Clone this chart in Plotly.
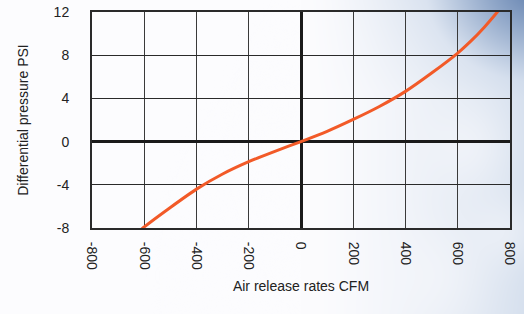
import base64, struct, zlib
import numpy as np
import plotly.graph_objects as go

# ---- data ----
cfm = [-610, -600, -500, -400, -300, -200, -100, 0, 100, 200, 300, 400, 500, 600, 650, 700, 750, 760]
psi = [-8.1, -7.9, -6.1, -4.4, -3.0, -1.86, -0.9, 0.0, 0.95, 2.05, 3.25, 4.65, 6.35, 8.2, 9.3, 10.55, 11.95, 12.25]
x_ticks = [-800, -600, -400, -200, 0, 200, 400, 600, 800]
y_ticks = [-8, -4, 0, 4, 8, 12]

# ---- background gradient image (decorative sky) ----
W, H = 524, 314
yy, xx = np.mgrid[0:H, 0:W].astype(float)
tx = np.clip((xx - 300) / 224.0, 0, 1) ** 1.6
white = np.array([252, 252, 254], float)
light = np.array([214, 224, 238], float)
mid = np.array([182, 200, 225], float)
dark = np.array([100, 130, 175], float)
img = white * (1 - tx[..., None]) + light * tx[..., None]
kt = (tx * np.clip(1 - yy / 100.0, 0, 1))[..., None] * 0.85
img = img * (1 - kt) + mid * kt
rc = np.sqrt((xx - 535) ** 2 + ((yy + 10) * 1.2) ** 2)
kd = np.clip(1 - rc / 110.0, 0, 1)[..., None] ** 1.2
img = img * (1 - kd) + dark * kd
for cx, cy, r, a in [(470, 145, 30, 0.45), (505, 230, 25, 0.4), (440, 275, 35, 0.35)]:
    d = np.exp(-(((xx - cx) ** 2 + (yy - cy) ** 2) / (2 * r * r)))[..., None] * a
    img = img * (1 - d) + white * d
img = np.clip(img, 0, 255).astype(np.uint8)

raw = b"".join(b"\x00" + img[i].tobytes() for i in range(H))
def chunk(t, d):
    c = struct.pack(">I", len(d)) + t + d
    return c + struct.pack(">I", zlib.crc32(t + d) & 0xFFFFFFFF)
png = (b"\x89PNG\r\n\x1a\n" + chunk(b"IHDR", struct.pack(">IIBBBBB", W, H, 8, 2, 0, 0, 0))
       + chunk(b"IDAT", zlib.compress(raw, 9)) + chunk(b"IEND", b""))
uri = "data:image/png;base64," + base64.b64encode(png).decode()

L, R, T, B = 92, 14, 12, 86
pw, ph = W - L - R, H - T - B

fig = go.Figure()
fig.add_trace(go.Scatter(x=cfm, y=psi, mode="lines",
                         line=dict(color="#f25a28", width=3, shape="spline", smoothing=0.6),
                         cliponaxis=True, hoverinfo="x+y", showlegend=False))

fig.add_layout_image(dict(source=uri, xref="paper", yref="paper",
                          x=-L / pw, y=1 + T / ph, sizex=W / pw, sizey=H / ph,
                          xanchor="left", yanchor="top", sizing="stretch", layer="below"))

font = dict(family="Liberation Sans, Arial, sans-serif", size=13, color="#222222")
fig.update_layout(
    width=W, height=H,
    margin=dict(l=L, r=R, t=T, b=B, pad=0, autoexpand=False),
    paper_bgcolor="white", plot_bgcolor="rgba(0,0,0,0)",
    font=font,
    xaxis=dict(range=[-800, 800], tickvals=x_ticks, ticktext=[str(v) for v in x_ticks],
               tickangle=90, ticks="outside", ticklen=9, tickcolor="rgba(0,0,0,0)",
               automargin=False, tickfont=dict(size=14),
               showgrid=True, gridcolor="#3a3a3a", gridwidth=1.3,
               zeroline=True, zerolinecolor="#1a1a1a", zerolinewidth=3,
               showline=True, linecolor="#2a2a2a", linewidth=2, mirror=True,
               title=dict(text="Air release rates CFM", font=dict(size=14, color="#222222"), standoff=12)),
    yaxis=dict(range=[-8, 12], tickvals=y_ticks, ticktext=[str(v) for v in y_ticks],
               ticks="outside", ticklen=18, tickcolor="rgba(0,0,0,0)",
               automargin=False,
               showgrid=True, gridcolor="#2a2a2a", gridwidth=1.3,
               zeroline=True, zerolinecolor="#1a1a1a", zerolinewidth=3,
               showline=True, linecolor="#2a2a2a", linewidth=2, mirror=True,
               tickfont=dict(size=14),
               title=dict(text="Differential pressure PSI", font=dict(size=14, color="#222222"), standoff=22)),
)

fig.write_html("out.html", config={"displayModeBar": False},
               post_script="document.body.style.margin='0px';")
